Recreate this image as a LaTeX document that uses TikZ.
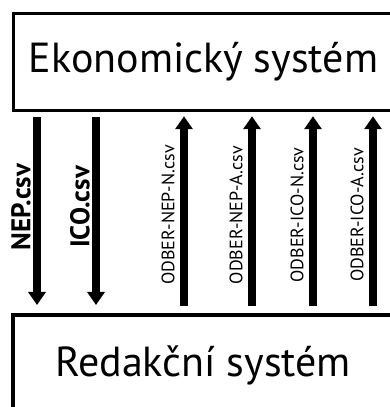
\documentclass[tikz,border=0pt]{standalone}
\usepackage{fontspec}
\setmainfont{PT Sans}
\usetikzlibrary{arrows.meta}

\tikzset{
  sysbox/.style={draw, line width=3.3pt, outer sep=0pt, inner sep=0pt,
    font=\fontsize{42}{50}\selectfont},
  flow/.style={line width=8pt, -{Triangle[width=17pt,length=13pt]}},
  bigfile/.style={rotate=90, inner sep=0pt, font=\bfseries\fontsize{27}{32}\selectfont},
  smallfile/.style={rotate=90, inner sep=0pt, font=\fontsize{18}{22}\selectfont},
}

\begin{document}
\begin{tikzpicture}[x=1pt,y=1pt]
  \useasboundingbox (0,0) rectangle (389,407);

  % The two systems (both run past the right edge)
  \node[sysbox, minimum width=380pt, minimum height=96.5pt] (eko) at (203.5,345) {Ekonomický systém};
  \node[sysbox, minimum width=380pt, minimum height=100pt] (red) at (203,42) {Redakční systém};

  % Files going down to the editorial system
  \foreach \x/\name [count=\i] in {37/NEP, 96/ICO} {
    \coordinate (d\i) at (\x,0);
    \draw[flow, shorten <=7pt, shorten >=10pt] (eko.south -| d\i) -- (red.north -| d\i);
    \node[bigfile] (dl\i) at (\x-16,200) {\name.csv};
  }

  % Files coming back up to the economic system
  \foreach \x/\name [count=\i] in {184/NEP-N, 252/NEP-A, 313/ICO-N, 373/ICO-A} {
    \coordinate (u\i) at (\x,0);
    \draw[flow, shorten <=9pt, shorten >=6pt] (red.north -| u\i) -- (eko.south -| u\i);
    \node[smallfile] (ul\i) at (\x-16,192) {ODBER-\name.csv};
  }
\end{tikzpicture}
\end{document}
